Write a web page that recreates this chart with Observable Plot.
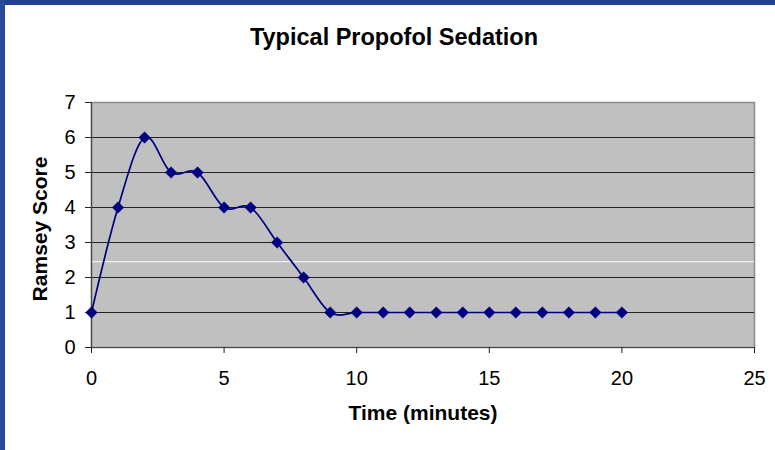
<!DOCTYPE html>
<html>
<head>
<meta charset="utf-8">
<script src="https://cdn.jsdelivr.net/npm/d3@7"></script>
<script src="https://cdn.jsdelivr.net/npm/@observablehq/plot@0.6"></script>
<style>
  html, body { margin: 0; padding: 0; background: #fff; }
  #wrap { position: relative; width: 775px; height: 450px; overflow: hidden; background: #fff; font-family: "Liberation Sans", Arial, sans-serif; }
  #bt { position: absolute; left: 0; top: 0; width: 775px; height: 5px; background: #233f8f; }
  #bl { position: absolute; left: 0; top: 0; width: 5px; height: 450px; background: #2a489a; }
  #title { position: absolute; left: 0; width: 788px; top: 25px; line-height: 24px; text-align: center; font-weight: bold; font-size: 23.5px; color: #000; }
  #chart { position: absolute; left: 0; top: 0; }
</style>
</head>
<body>
<div id="wrap">
  <div id="chart"></div>
  <div id="bt"></div>
  <div id="bl"></div>
  <div id="title">Typical Propofol Sedation</div>
</div>
<script>
const times = [0, 1, 2, 3, 4, 5, 6, 7, 8, 9, 10, 11, 12, 13, 14, 15, 16, 17, 18, 19, 20];
const scores = [1, 4, 6, 5, 5, 4, 4, 3, 2, 1, 1, 1, 1, 1, 1, 1, 1, 1, 1, 1, 1];
const xTicks = [0, 5, 10, 15, 20, 25];
const yTicks = [0, 1, 2, 3, 4, 5, 6, 7];
const gridValues = [1, 2, 3, 4, 5, 6];
const whiteLine = [2.45];

const data = times.map((t, i) => ({t, s: scores[i]}));

const chart = Plot.plot({
  width: 775,
  height: 450,
  marginLeft: 91,
  marginRight: 21,
  marginTop: 102,
  marginBottom: 103,
  style: {fontFamily: "'Liberation Sans', Arial, sans-serif", fontSize: "20px", background: "transparent", overflow: "visible"},
  x: {domain: [0, 25], ticks: xTicks, label: null, tickFormat: d => String(d)},
  y: {domain: [0, 7], ticks: yTicks, label: null, tickFormat: d => String(d)},
  marks: [
    Plot.frame({fill: "#c0c0c0", stroke: "#8a8a8a", strokeWidth: 1.5}),
    Plot.ruleY(gridValues, {stroke: "#222", strokeWidth: 1.2}),
    Plot.ruleY(whiteLine, {stroke: "#ffffff", strokeWidth: 1}),
    Plot.ruleX([0], {stroke: "#444", strokeWidth: 1.2}),
    Plot.ruleY([0], {stroke: "#444", strokeWidth: 1.2}),
    Plot.axisX({ticks: xTicks, tickFormat: d => String(d), tickSize: 6, tickPadding: 17, fontSize: 20, stroke: "#222", fill: "#000", label: null}),
    Plot.axisY({ticks: yTicks, tickFormat: d => String(d), tickSize: 6, tickPadding: 10, fontSize: 20, stroke: "#222", fill: "#000", label: null}),
    Plot.lineY(data, {x: "t", y: "s", curve: "cardinal", stroke: "#000080", strokeWidth: 1.7}),
    Plot.dot(data, {x: "t", y: "s", symbol: "diamond2", r: 5.2, fill: "#000080", stroke: "#000080", strokeWidth: 0.5}),
    Plot.text(["Time (minutes)"], {frameAnchor: "bottom", dy: 72, dx: 0, fontSize: 21, fontWeight: "bold", fill: "#000"}),
    Plot.text(["Ramsey Score"], {frameAnchor: "left", textAnchor: "middle", dx: -51, dy: 4, rotate: -90, fontSize: 21, fontWeight: "bold", fill: "#000"})
  ]
});
document.getElementById("chart").appendChild(chart);
</script>
</body>
</html>
